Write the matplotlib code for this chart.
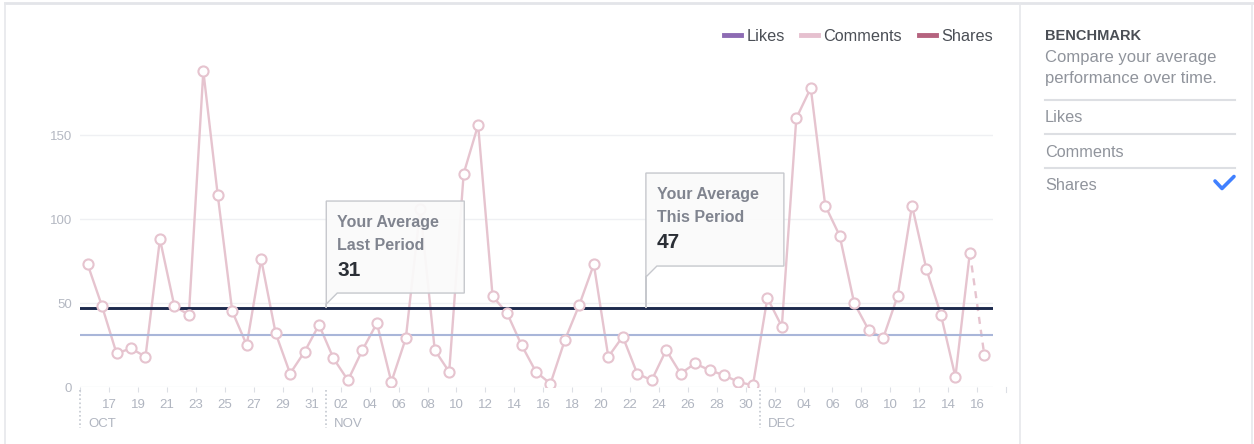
import numpy as np
import pandas as pd
import matplotlib
matplotlib.use("Agg")
import matplotlib.pyplot as plt
from matplotlib.lines import Line2D
from matplotlib.patches import Polygon

plt.rcParams['font.family'] = ['Liberation Sans', 'DejaVu Sans']

# data
dates = pd.date_range("2014-10-15", "2014-12-16", freq="D")
shares = [73, 48, 20, 23, 18, 88, 48, 43, 188, 114, 45, 25, 76, 32, 8, 21, 37,
          17, 4, 22, 38, 3, 29, 106, 22, 9, 127, 156, 54, 44, 25, 9, 2, 28, 49,
          73, 18, 30, 8, 4, 22, 8, 14, 10, 7, 3, 1,
          53, 36, 160, 178, 108, 90, 50, 34, 29, 54, 108, 70, 43, 6, 80, 19]
avg_last = 31
avg_this = 47
legend_names = ["Likes", "Comments", "Shares"]
legend_colors = ["#8d6bb3", "#e6c0cf", "#b5637f"]
menu_items = ["Likes", "Comments", "Shares"]
callout_titles = [("Your Average", "Last Period"), ("Your Average", "This Period")]
callout_values = [avg_last, avg_this]
callout_x = [16.5, 38.6]
y_ticks = [0, 50, 100, 150]

W, H = 1254, 444
pink = "#e6c4cf"
fig = plt.figure(figsize=(W / 100, H / 100), dpi=100)

ax = fig.add_axes([80.4 / W, 1 - 387 / H, (993 - 80.4) / W, (387 - 51) / H])
x = np.arange(len(dates))
ax.set_xlim(-0.5, len(dates) - 0.4)
ax.set_ylim(0, 200)

# series (last segment is dashed, still in progress)
ax.plot(x[:-1], shares[:-1], color=pink, lw=1.7, zorder=2)
ax.plot(x[-2:], shares[-2:], color=pink, lw=1.7, dashes=(3, 2.5), zorder=2)
ax.plot(x, shares, "o", ls="none", ms=7.3, mfc="white", mec=pink, mew=1.5, zorder=4)

# benchmark lines
ax.axhline(avg_last, color="#a9b6d9", lw=1.5, zorder=3)
ax.axhline(avg_this, color="#1d2a4d", lw=2.1, zorder=3)

# axes styling
for s in ax.spines.values():
    s.set_visible(False)
ax.set_yticks(y_ticks)
ax.tick_params(axis="y", length=0, labelsize=9.5, labelcolor="#b4b8c2", pad=6)
ax.grid(axis="y", color="#eff0f3", lw=1)
ax.set_axisbelow(True)

tick_idx = x[::2]
tick_labels = ["" if i == 0 else dates[i].strftime("%d") for i in tick_idx]
ax.set_xticks(tick_idx - 0.5, tick_labels)
ax.tick_params(axis="x", length=3.6, width=0.8, color="#dcdfe5",
               labelsize=9.5, labelcolor="#b0b5c0", pad=5.2)
# one more tick past the last day
xt = ax.get_xaxis_transform()
ax.plot([len(dates) + 0.5] * 2, [0, -5 / 336], transform=xt, clip_on=False,
        color="#dcdfe5", lw=0.8)

# month dividers
month_starts = [i for i in x if i == 0 or dates[i].day == 1]
for i in month_starts:
    ax.plot([i - 0.5] * 2, [-3 / 336, -41 / 336], transform=xt, clip_on=False,
            color="#c3c8d0", lw=1.2, ls=(0, (1, 1.5)))
    ax.annotate(dates[i].strftime("%b").upper(), xy=(i - 0.5, 0),
                xycoords=("data", "axes fraction"), xytext=(8, -39.7),
                textcoords="offset pixels", ha="left", va="baseline",
                fontsize=9.5, color="#b0b5c0")

# legend
handles = [Line2D([], [], color=c, lw=3.5) for c in legend_colors]
fig.legend(handles, legend_names, loc="center right", bbox_to_anchor=(993 / W, 1 - 36 / H),
           ncol=3, frameon=False, fontsize=11.7, handlelength=1.05, handletextpad=0.35,
           columnspacing=1.0, borderpad=0, borderaxespad=0, labelcolor="#4b4f56")

# overlay in pixel coords
ov = fig.add_axes([0, 0, 1, 1], zorder=5)
ov.set_xlim(0, W)
ov.set_ylim(H, 0)
ov.axis("off")

ov.plot([5, 1252], [3, 3], color="#e3e5e9", lw=2)
for fx in [5, 1020, 1252]:
    ov.plot([fx, fx], [3, H], color="#e6e8eb", lw=1.2)

# callouts
callout_top = [107, 135]
callout_bottom = [15, 42]
for (t1, t2), val, cx, ht, hb in zip(callout_titles, callout_values, callout_x,
                                     callout_top, callout_bottom):
    dx, dy = ax.transData.transform((cx, avg_this))
    L, ly = dx, H - dy
    top, bot = ly - ht, ly - hb
    pts = [(L, ly), (L, top), (L + 138, top), (L + 138, bot), (L + 11, bot), (L, bot + 11)]
    ov.add_patch(Polygon(pts, closed=True, fc=(0.98, 0.98, 0.98, 0.93),
                         ec="#c6c8cd", lw=1.0))
    ov.text(L + 11, top + 26, t1, fontsize=11.5, fontweight="bold", color="#80848f", va="baseline")
    ov.text(L + 11, top + 48.5, t2, fontsize=11.5, fontweight="bold", color="#80848f", va="baseline")
    ov.text(L + 11, top + 75, str(val), fontsize=15, fontweight="bold", color="#2b2f36", va="baseline")

# right panel
ov.text(1045, 40, "BENCHMARK", fontsize=10.5, fontweight="bold", color="#4b4f56", va="baseline")
ov.text(1045, 61.7, "Compare your average", fontsize=12, color="#90949c", va="baseline")
ov.text(1045, 82.7, "performance over time.", fontsize=12, color="#90949c", va="baseline")
for sy in [100, 134, 168]:
    ov.plot([1045, 1235], [sy, sy], color="#dddfe3", lw=1.5)
for item, by in zip(menu_items, [122.3, 156.7, 190]):
    ov.text(1045, by, item, fontsize=11.7, color="#90949c", va="baseline")
ov.plot([1215, 1222, 1234], [181, 188.5, 176.5], color="#4080ff", lw=2.6,
        solid_capstyle="round", solid_joinstyle="round")

fig.savefig("out.png", dpi=100, facecolor="white")
